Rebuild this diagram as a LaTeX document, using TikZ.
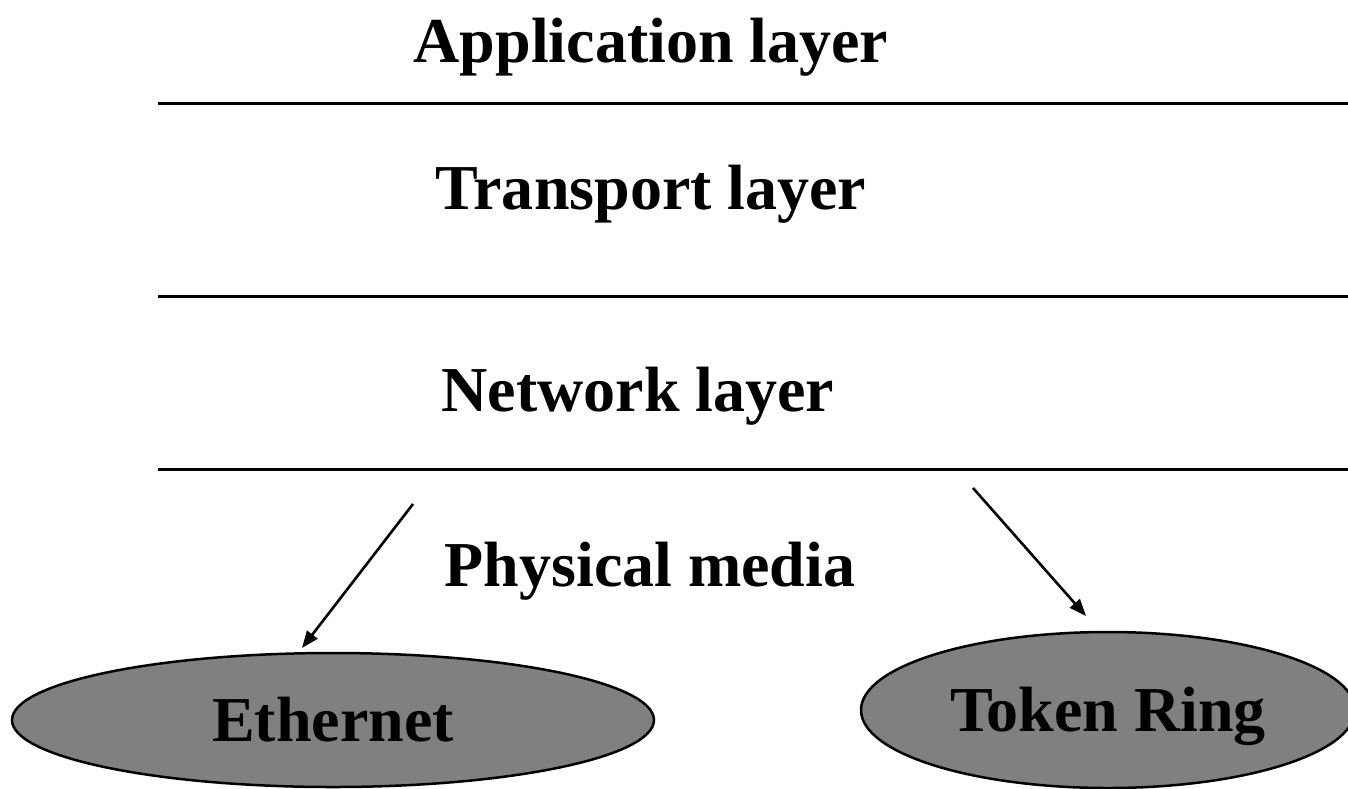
\documentclass[tikz,border=0pt]{standalone}
\usepackage{fontspec}
\setmainfont{Liberation Serif}
\usetikzlibrary{shapes.geometric,arrows.meta}
\begin{document}
\begin{tikzpicture}[x=1pt,y=-1pt,
  lbl/.style={font=\bfseries\fontsize{64}{70}\selectfont, anchor=base, inner sep=0pt},
  sep/.style={line width=3pt},
  arr/.style={line width=2.6pt, -{Triangle[length=17pt,width=13pt]}},
  media/.style={ellipse, draw, line width=2.5pt, fill=gray, inner sep=0pt,
    font=\bfseries\fontsize{64}{70}\selectfont, text height=43pt, text depth=0pt}]
\useasboundingbox (0,0) rectangle (1348,788);
\node[lbl] (app) at (651,62) {Application layer};
\node[lbl] (tra) at (651,209) {Transport layer};
\node[lbl] (net) at (638,411) {Network layer};
\node[lbl] (phy) at (650,586) {Physical media};
\coordinate (l1a) at (158,103); \coordinate (l1b) at (1348,103);
\coordinate (l2a) at (158,296); \coordinate (l2b) at (1348,296);
\coordinate (l3a) at (158,469); \coordinate (l3b) at (1348,469);
\draw[sep] (l1a) -- (l1b);
\draw[sep] (l2a) -- (l2b);
\draw[sep] (l3a) -- (l3b);
\node[media, minimum width=642pt, minimum height=134pt] (eth) at (333,720) {Ethernet};
\node[media, minimum width=494pt, minimum height=156pt] (tok) at (1108,710) {Token Ring};
\coordinate (s1) at (413,504); \coordinate (e1) at (302,648);
\coordinate (s2) at (973,488); \coordinate (e2) at (1086,616);
\draw[arr] (s1) -- (e1);
\draw[arr] (s2) -- (e2);
\end{tikzpicture}
\end{document}
